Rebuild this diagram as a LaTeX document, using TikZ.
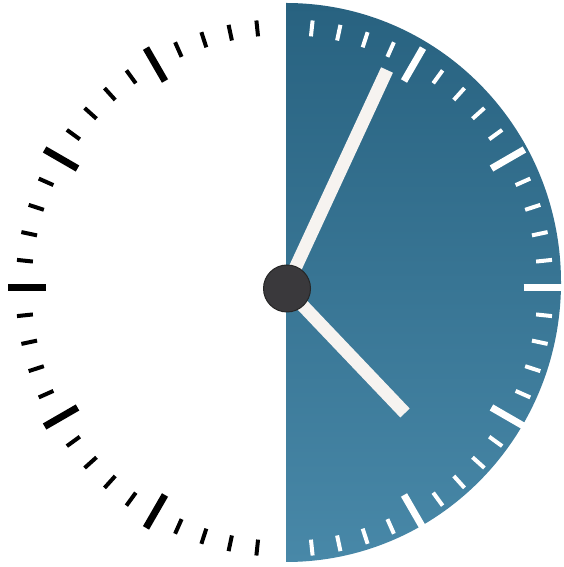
\documentclass[tikz,border=0pt]{standalone}
\definecolor{disctop}{RGB}{40,98,128}
\definecolor{discbot}{RGB}{72,136,168}
\definecolor{handcol}{RGB}{246,243,240}
\definecolor{hubcol}{RGB}{58,57,60}
\begin{document}
\begin{tikzpicture}[x=1pt,y=1pt,
  minortick/.style={line width=4pt},
  majortick/.style={line width=7pt},
  hand/.style={handcol, line width=13pt}]
\useasboundingbox (0,0) rectangle (563,567);
\fill[white] (0,0) rectangle (563,567);
\coordinate (c) at (286,279);
\shade[top color=disctop,bottom color=discbot] (286,564) arc[start angle=90,end angle=-90,x radius=275pt,y radius=279.5pt] -- cycle;
\begin{scope}[shift={(284.5,279)}]
\foreach \i in {1,...,59}{
  \ifnum\i=30\else
    \pgfmathtruncatemacro{\m}{mod(\i,5)}
    \ifnum\i<30 \def\tcol{white}\else\def\tcol{black}\fi
    \ifnum\m=0
      \draw[majortick,\tcol] ({90-6*\i}:239) -- ({90-6*\i}:277);
    \else
      \draw[minortick,\tcol] ({90-6*\i}:253) -- ({90-6*\i}:269);
    \fi
  \fi
}
\end{scope}
\coordinate (mtip) at (387,497);
\coordinate (htip) at (405,154);
\draw[hand] (c) -- (mtip);
\draw[hand] (c) -- (htip);
\node[circle, fill=hubcol, draw=black!85, line width=1pt, minimum size=47pt, inner sep=0pt] (hub) at (287,278.5) {};
\end{tikzpicture}
\end{document}
